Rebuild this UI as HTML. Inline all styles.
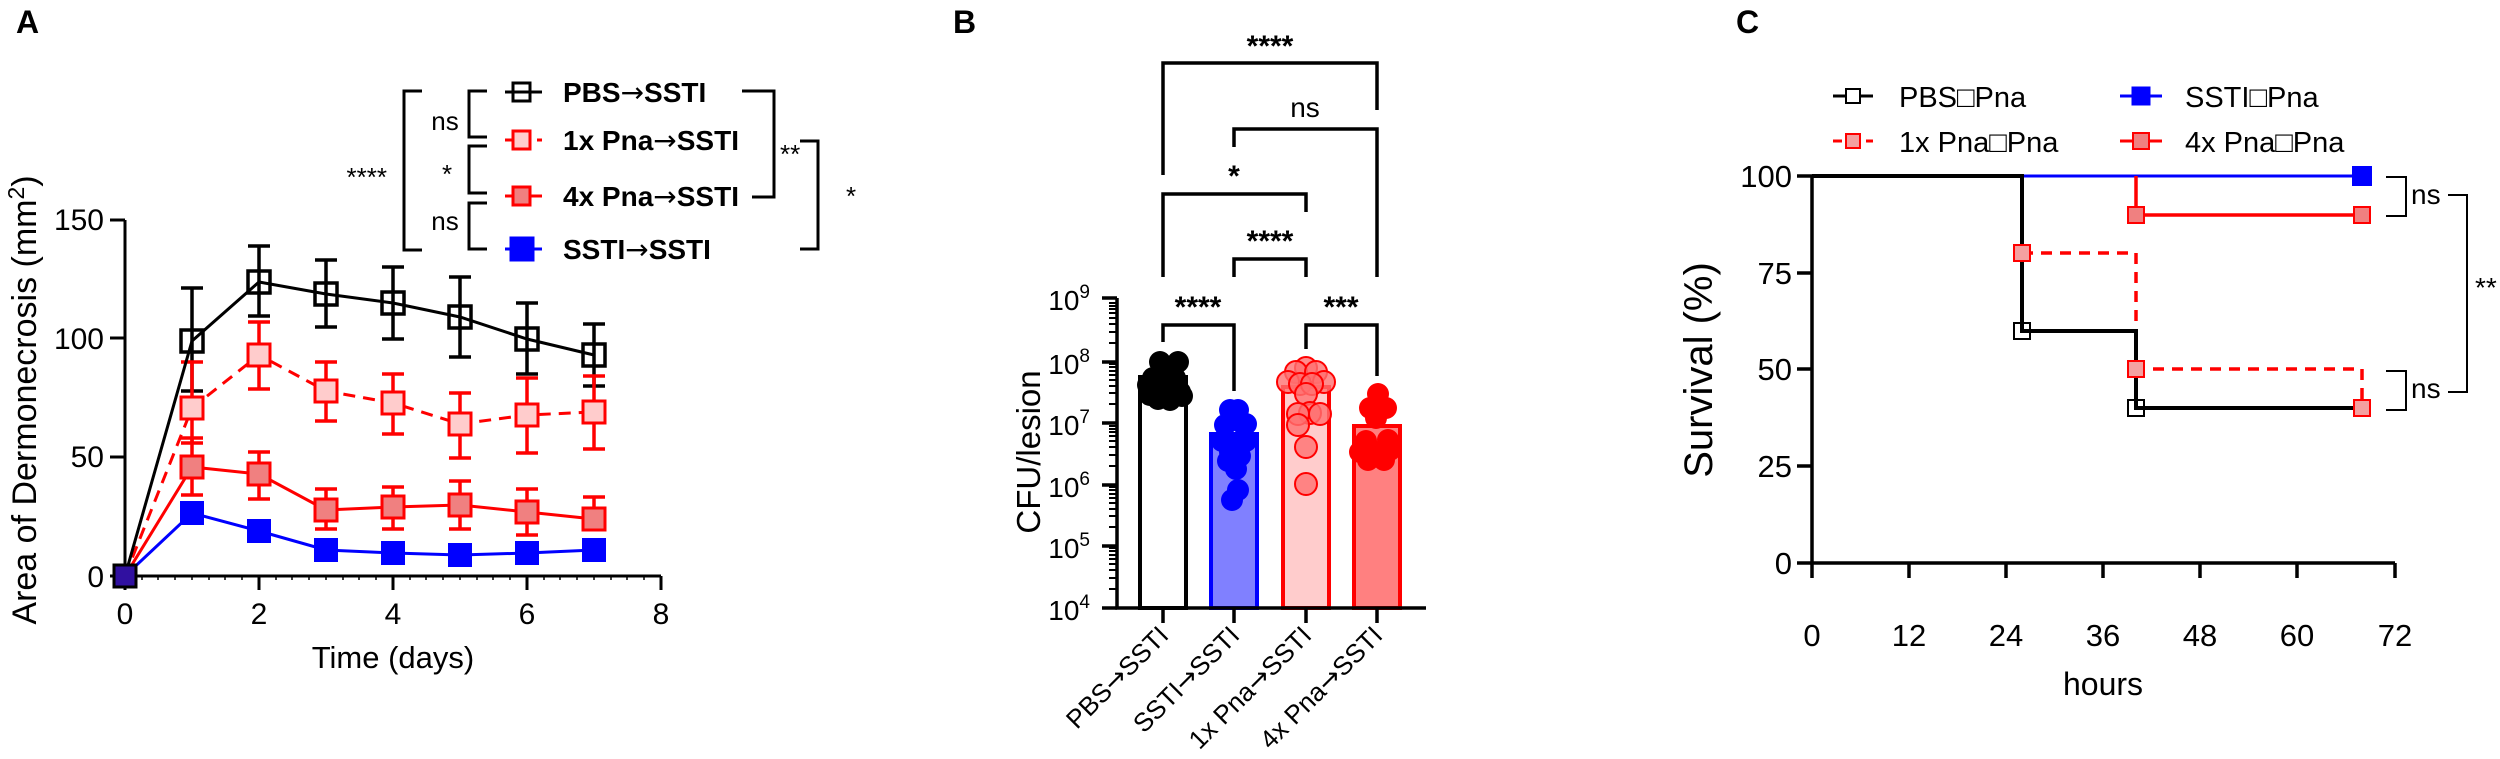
<!DOCTYPE html>
<html><head><meta charset="utf-8"><style>
html,body{margin:0;padding:0;background:#fff;}
svg{display:block;}
text{font-family:"Liberation Sans",Arial,sans-serif;}
.n{font-family:"Liberation Sans Narrow","Liberation Sans",sans-serif;}
.ar{font-family:"DejaVu Sans",sans-serif;}
</style></head><body>
<svg width="2500" height="759" viewBox="0 0 2500 759" xmlns="http://www.w3.org/2000/svg">
<rect width="2500" height="759" fill="#fff"/>
<text x="16" y="33" font-size="32" font-weight="bold">A</text>
<text x="953" y="33" font-size="32" font-weight="bold">B</text>
<text x="1736" y="33" font-size="32" font-weight="bold">C</text>

<g stroke="#000" stroke-width="3" fill="none">
<path d="M125 220 V576 H661"/>
<path d="M110 220H125 M110 338H125 M110 457H125 M110 576H125"/>
<path d="M125 576v14 M259 576v14 M393 576v14 M527 576v14 M661 576v14"/>
</g>
<g stroke="#000" stroke-width="1.5">
<path d="M142 576v4M158 576v4M175 576v4M192 576v4M209 576v4M225 576v4M242 576v4M276 576v4M292 576v4M309 576v4M326 576v4M343 576v4M359 576v4M376 576v4M410 576v4M426 576v4M443 576v4M460 576v4M477 576v4M493 576v4M510 576v4M544 576v4M560 576v4M577 576v4M594 576v4M611 576v4M627 576v4M644 576v4"/>
</g>
<g class="n" font-size="30" text-anchor="end">
<text class="n" x="104" y="230">150</text>
<text class="n" x="104" y="349">100</text>
<text class="n" x="104" y="467">50</text>
<text class="n" x="104" y="587">0</text>
</g>
<g font-size="30" text-anchor="middle">
<text class="n" x="125" y="624">0</text>
<text class="n" x="259" y="624">2</text>
<text class="n" x="393" y="624">4</text>
<text class="n" x="527" y="624">6</text>
<text class="n" x="661" y="624">8</text>
<text class="n" x="393" y="668" font-size="31">Time (days)</text>
</g>
<text class="n" transform="translate(36,400) rotate(-90)" font-size="34" text-anchor="middle">Area of Dermonecrosis (mm<tspan dy="-12" font-size="23">2</tspan><tspan dy="12">)</tspan></text>

<g stroke="#000" stroke-width="3.5" fill="none">
<path d="M192 288V391M181 288h22M181 391h22 M259 246V316M248 246h22M248 316h22 M326 260V327M315 260h22M315 327h22 M393 267V339M382 267h22M382 339h22 M460 277V357M449 277h22M449 357h22 M527 303V374M516 303h22M516 374h22 M594 324V386M583 324h22M583 386h22"/>
</g>
<g stroke="#f00" stroke-width="3.5" fill="none">
<path d="M192 362V443M181 362h22M181 443h22 M259 322V389M248 322h22M248 389h22 M326 362V421M315 362h22M315 421h22 M393 374V434M382 374h22M382 434h22 M460 393V458M449 393h22M449 458h22 M527 378V453M516 378h22M516 453h22 M594 376V449M583 376h22M583 449h22"/>
<path d="M192 438V495M181 438h22M181 495h22 M259 452V499M248 452h22M248 499h22 M326 489V529M315 489h22M315 529h22 M393 487V529M382 487h22M382 529h22 M460 481V529M449 481h22M449 529h22 M527 489V535M516 489h22M516 535h22 M594 497V527M583 497h22M583 527h22"/>
</g>
<polyline points="125,576 192,513 259,531 326,550 393,553 460,555 527,553 594,550" fill="none" stroke="#00f" stroke-width="3"/>
<polyline points="125,576 192,467 259,474 326,510 393,507 460,505 527,512 594,519" fill="none" stroke="#f00" stroke-width="3"/>
<polyline points="125,576 192,408 259,355 326,391 393,403 460,424 527,415 594,412" fill="none" stroke="#f00" stroke-width="3" stroke-dasharray="12,8"/>
<polyline points="125,576 192,341 259,282 326,294 393,303 460,317 527,339 594,355" fill="none" stroke="#000" stroke-width="3"/>
<g fill="#00f" stroke="#00f" stroke-width="2">
<rect x="181" y="502" width="22" height="22"/><rect x="248" y="520" width="22" height="22"/><rect x="315" y="539" width="22" height="22"/><rect x="382" y="542" width="22" height="22"/><rect x="449" y="544" width="22" height="22"/><rect x="516" y="542" width="22" height="22"/><rect x="583" y="539" width="22" height="22"/>
</g>
<g fill="#f08080" stroke="#f00" stroke-width="3">
<rect x="181" y="456" width="22" height="22"/><rect x="248" y="463" width="22" height="22"/><rect x="315" y="499" width="22" height="22"/><rect x="382" y="496" width="22" height="22"/><rect x="449" y="494" width="22" height="22"/><rect x="516" y="501" width="22" height="22"/><rect x="583" y="508" width="22" height="22"/>
</g>
<g fill="#ffcccc" stroke="#f00" stroke-width="3">
<rect x="181" y="397" width="22" height="22"/><rect x="248" y="344" width="22" height="22"/><rect x="315" y="380" width="22" height="22"/><rect x="382" y="392" width="22" height="22"/><rect x="449" y="413" width="22" height="22"/><rect x="516" y="404" width="22" height="22"/><rect x="583" y="401" width="22" height="22"/>
</g>
<g fill="#fff" fill-opacity="0" stroke="#000" stroke-width="3.5">
<rect x="181" y="330" width="22" height="22"/><rect x="248" y="271" width="22" height="22"/><rect x="315" y="283" width="22" height="22"/><rect x="382" y="292" width="22" height="22"/><rect x="449" y="306" width="22" height="22"/><rect x="516" y="328" width="22" height="22"/><rect x="583" y="344" width="22" height="22"/>
</g>
<rect x="114" y="565" width="22" height="22" fill="#3010a0" stroke="#000" stroke-width="3"/>

<g stroke-width="3" fill="none">
<path d="M505 92H542" stroke="#000"/><rect x="513" y="83" width="17" height="18" stroke="#000"/>
<path d="M505 140H516M526 140h5M537 140h5" stroke="#f00"/><rect x="513" y="131" width="17" height="18" stroke="#f00" fill="#ffcccc"/>
<path d="M505 196H542" stroke="#f00"/><rect x="513" y="187" width="17" height="18" stroke="#f00" fill="#f08080"/>
<path d="M505 249H542" stroke="#00f"/><rect x="511" y="238" width="22" height="22" stroke="#00f" fill="#00f"/>
</g>
<g font-size="28" font-weight="bold">
<text class="n" x="563" y="102">PBS<tspan class="ar" font-weight="normal">→</tspan>SSTI</text>
<text class="n" x="563" y="150">1x Pna<tspan class="ar" font-weight="normal">→</tspan>SSTI</text>
<text class="n" x="563" y="206">4x Pna<tspan class="ar" font-weight="normal">→</tspan>SSTI</text>
<text class="n" x="563" y="259">SSTI<tspan class="ar" font-weight="normal">→</tspan>SSTI</text>
</g>
<g stroke="#000" stroke-width="3" fill="none">
<path d="M422 91H404V250H422"/>
<path d="M487 91H469V137H487"/>
<path d="M487 146H469V193H487"/>
<path d="M487 203H469V249H487"/>
<path d="M742 91H774V197H752"/>
<path d="M800 141H818V249H800"/>
</g>
<g font-size="26">
<text class="n" x="387" y="186" text-anchor="end">****</text>
<text class="n" x="445" y="130" text-anchor="middle">ns</text>
<text class="n" x="447" y="183" text-anchor="middle">*</text>
<text class="n" x="445" y="230" text-anchor="middle">ns</text>
<text class="n" x="780" y="163">**</text>
<text class="n" x="846" y="205">*</text>
</g>

<g stroke-width="4">
<rect x="1140" y="377" width="46" height="231" fill="#fff" stroke="#000"/>
<rect x="1211" y="434" width="46" height="174" fill="#8080ff" stroke="#00f"/>
<rect x="1283" y="387" width="46" height="221" fill="#ffcccc" stroke="#f00"/>
<rect x="1354" y="426" width="46" height="182" fill="#ff8080" stroke="#f00"/>
</g>
<g fill="#000">
<circle cx="1153" cy="378" r="11"/><circle cx="1175" cy="378" r="11"/><circle cx="1160" cy="362" r="11"/><circle cx="1178" cy="362" r="11"/><circle cx="1150" cy="395" r="11"/><circle cx="1172" cy="395" r="11"/><circle cx="1163" cy="388" r="11"/><circle cx="1148" cy="385" r="11"/><circle cx="1180" cy="392" r="11"/><circle cx="1158" cy="399" r="11"/><circle cx="1170" cy="400" r="11"/><circle cx="1166" cy="370" r="11"/><circle cx="1182" cy="396" r="11"/>
</g>
<g fill="#00f">
<circle cx="1230" cy="410" r="11"/><circle cx="1238" cy="410" r="11"/><circle cx="1242" cy="423" r="11"/><circle cx="1225" cy="425" r="11"/><circle cx="1246" cy="424" r="11"/><circle cx="1222" cy="441" r="11"/><circle cx="1246" cy="441" r="11"/><circle cx="1236" cy="445" r="11"/><circle cx="1230" cy="452" r="11"/><circle cx="1240" cy="456" r="11"/><circle cx="1228" cy="461" r="11"/><circle cx="1236" cy="469" r="11"/><circle cx="1238" cy="490" r="11"/><circle cx="1232" cy="500" r="11"/>
</g>
<g fill="#ff7070" fill-opacity="0.8" stroke="#f00" stroke-width="2">
<circle cx="1306" cy="368" r="11"/><circle cx="1296" cy="372" r="11"/><circle cx="1316" cy="372" r="11"/><circle cx="1288" cy="382" r="11"/><circle cx="1324" cy="382" r="11"/><circle cx="1300" cy="384" r="11"/><circle cx="1312" cy="384" r="11"/><circle cx="1306" cy="394" r="11"/><circle cx="1310" cy="413" r="11"/><circle cx="1298" cy="414" r="11"/><circle cx="1320" cy="414" r="11"/><circle cx="1298" cy="425" r="11"/><circle cx="1306" cy="447" r="11"/><circle cx="1306" cy="484" r="11"/>
</g>
<g fill="#f00">
<circle cx="1378" cy="394" r="11"/><circle cx="1370" cy="408" r="11"/><circle cx="1386" cy="408" r="11"/><circle cx="1376" cy="418" r="11"/><circle cx="1366" cy="441" r="11"/><circle cx="1390" cy="450" r="11"/><circle cx="1360" cy="452" r="11"/><circle cx="1376" cy="452" r="11"/><circle cx="1388" cy="440" r="11"/><circle cx="1368" cy="460" r="11"/><circle cx="1384" cy="460" r="11"/>
</g>
<g stroke="#000" stroke-width="3.5" fill="none">
<path d="M1117 298V608H1426"/>
<path d="M1102 298H1117M1102 362H1117M1102 423H1117M1102 485H1117M1102 546H1117M1102 608H1117"/>
<path d="M1163 608v15M1234 608v15M1306 608v15M1377 608v15"/>
</g>
<g stroke="#000" stroke-width="2">
<path d="M1109 589h8M1109 578h8M1109 570h8M1109 564h8M1109 559h8M1109 555h8M1109 551h8M1109 548h8
M1109 527h8M1109 516h8M1109 509h8M1109 503h8M1109 498h8M1109 494h8M1109 490h8M1109 487h8
M1109 466h8M1109 455h8M1109 447h8M1109 441h8M1109 436h8M1109 432h8M1109 429h8M1109 426h8
M1109 404h8M1109 393h8M1109 386h8M1109 380h8M1109 375h8M1109 371h8M1109 367h8M1109 364h8
M1109 343h8M1109 332h8M1109 324h8M1109 318h8M1109 313h8M1109 309h8M1109 306h8M1109 303h8"/>
</g>
<g font-size="28" text-anchor="end">
<text x="1090" y="310">10<tspan dy="-12" font-size="19">9</tspan></text>
<text x="1090" y="374">10<tspan dy="-12" font-size="19">8</tspan></text>
<text x="1090" y="435">10<tspan dy="-12" font-size="19">7</tspan></text>
<text x="1090" y="497">10<tspan dy="-12" font-size="19">6</tspan></text>
<text x="1090" y="558">10<tspan dy="-12" font-size="19">5</tspan></text>
<text x="1090" y="620">10<tspan dy="-12" font-size="19">4</tspan></text>
</g>
<text transform="translate(1040,452) rotate(-90)" font-size="33" text-anchor="middle">CFU/lesion</text>
<g font-size="26" text-anchor="end">
<text transform="translate(1170,637) rotate(-45)">PBS<tspan class="ar">→</tspan>SSTI</text>
<text transform="translate(1241,637) rotate(-45)">SSTI<tspan class="ar">→</tspan>SSTI</text>
<text transform="translate(1313,637) rotate(-45)">1x Pna<tspan class="ar">→</tspan>SSTI</text>
<text transform="translate(1384,637) rotate(-45)">4x Pna<tspan class="ar">→</tspan>SSTI</text>
</g>
<g stroke="#000" stroke-width="3.5" fill="none">
<path d="M1163 175V63H1377V110"/>
<path d="M1234 147V129H1377V277"/>
<path d="M1163 277V194H1306V212"/>
<path d="M1234 277V259H1306V277"/>
<path d="M1163 342V325H1234V391"/>
<path d="M1306 349V325H1377V376"/>
</g>
<g font-size="30" font-weight="bold" text-anchor="middle">
<text x="1270" y="56">****</text>
<text x="1234" y="186">*</text>
<text x="1270" y="251">****</text>
<text x="1198" y="317">****</text>
<text x="1341" y="317">***</text>
</g>
<text x="1305" y="117" font-size="28" text-anchor="middle">ns</text>

<g stroke="#000" stroke-width="3.5" fill="none">
<path d="M1812 176V563H2395"/>
<path d="M1797 176H1812M1797 273H1812M1797 369H1812M1797 466H1812M1797 563H1812"/>
<path d="M1812 563v15M1909 563v15M2006 563v15M2103 563v15M2200 563v15M2297 563v15M2395 563v15"/>
</g>
<g font-size="31" text-anchor="end">
<text x="1792" y="187">100</text>
<text x="1792" y="284">75</text>
<text x="1792" y="380">50</text>
<text x="1792" y="477">25</text>
<text x="1792" y="574">0</text>
</g>
<g font-size="31" text-anchor="middle">
<text x="1812" y="646">0</text>
<text x="1909" y="646">12</text>
<text x="2006" y="646">24</text>
<text x="2103" y="646">36</text>
<text x="2200" y="646">48</text>
<text x="2297" y="646">60</text>
<text x="2395" y="646">72</text>
<text x="2103" y="695" font-size="32">hours</text>
</g>
<text transform="translate(1712,370) rotate(-90)" font-size="40" text-anchor="middle">Survival (%)</text>
<path d="M2022 176H2362" stroke="#00f" stroke-width="3" fill="none"/>
<path d="M2136 176V215H2362" stroke="#f00" stroke-width="3.5" fill="none"/>
<path d="M2022 253H2136V369H2362V408" stroke="#f00" stroke-width="3.5" fill="none" stroke-dasharray="11,8"/>
<path d="M1812 176H2022V331H2136V408H2362" stroke="#000" stroke-width="4" fill="none"/>
<g stroke-width="2">
<rect x="2014" y="245" width="16" height="16" fill="#f4a0a0" stroke="#f00"/>
<rect x="2128" y="207" width="16" height="16" fill="#f08080" stroke="#f00"/>
<rect x="2354" y="207" width="16" height="16" fill="#f08080" stroke="#f00"/>
<rect x="2128" y="361" width="16" height="16" fill="#f4a0a0" stroke="#f00"/>
<rect x="2014" y="323" width="16" height="16" fill="none" stroke="#000"/>
<rect x="2128" y="400" width="16" height="16" fill="none" stroke="#000"/>
<rect x="2354" y="400" width="16" height="16" fill="#f4a0a0" stroke="#f00"/>
<rect x="2353" y="167" width="18" height="18" fill="#00f" stroke="#00f"/>
</g>
<g stroke-width="3">
<path d="M1833 96H1873" stroke="#000"/><rect x="1846" y="89" width="14" height="14" fill="#fff" stroke="#000" stroke-width="2"/>
<path d="M1833 141H1842M1866 141h7" stroke="#f00"/><rect x="1846" y="134" width="14" height="14" fill="#f4a0a0" stroke="#f00" stroke-width="2"/>
<path d="M2120 96H2162" stroke="#00f"/><rect x="2133" y="88" width="16" height="16" fill="#00f" stroke="#00f"/>
<path d="M2120 141H2162" stroke="#f00"/><rect x="2133" y="133" width="16" height="16" fill="#f08080" stroke="#f00" stroke-width="2"/>
</g>
<g font-size="29">
<text x="1899" y="107">PBS□Pna</text>
<text x="1899" y="152">1x Pna□Pna</text>
<text x="2185" y="107">SSTI□Pna</text>
<text x="2185" y="152">4x Pna□Pna</text>
</g>
<g stroke="#000" stroke-width="2" fill="none">
<path d="M2386 177H2406V216H2386"/>
<path d="M2386 371H2406V410H2386"/>
<path d="M2448 195H2467V392H2448"/>
</g>
<g font-size="28">
<text x="2411" y="204">ns</text>
<text x="2411" y="398">ns</text>
<text x="2475" y="297">**</text>
</g>
</svg>
</body></html>
